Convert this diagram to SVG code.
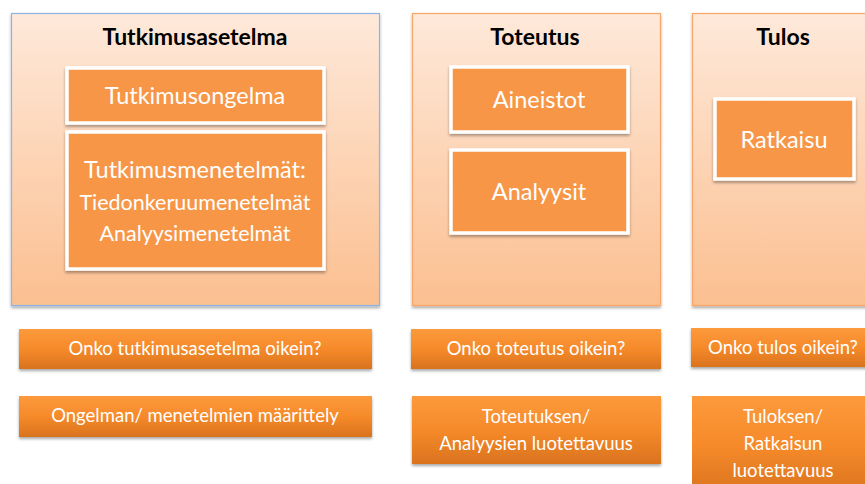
<svg xmlns="http://www.w3.org/2000/svg" width="865" height="484" viewBox="0 0 865 484">
<defs>
<linearGradient id="panelG" x1="0" y1="0" x2="0" y2="1">
<stop offset="0" stop-color="#fee9da"/>
<stop offset="1" stop-color="#fbbf90"/>
</linearGradient>
<linearGradient id="barG" x1="0" y1="0" x2="0" y2="1">
<stop offset="0" stop-color="#fc9a3c"/>
<stop offset="0.5" stop-color="#f68a2a"/>
<stop offset="1" stop-color="#d9731e"/>
</linearGradient>
<filter id="sh" x="-10%" y="-10%" width="120%" height="130%">
<feGaussianBlur in="SourceAlpha" stdDeviation="1.5"/>
<feOffset dx="0" dy="2" result="b"/>
<feComponentTransfer><feFuncA type="linear" slope="0.35"/></feComponentTransfer>
<feMerge><feMergeNode/><feMergeNode in="SourceGraphic"/></feMerge>
</filter>
</defs>
<style>
.panel{fill:url(#panelG);stroke:#f8a56a;stroke-width:1.2}
.panelB{fill:url(#panelG);stroke:#8eb4e3;stroke-width:1.2}
.box{fill:#f79646;stroke:#ffffff;stroke-width:3.5}
.bar{fill:url(#barG)}
.title{font-family:Lato,"Open Sans",sans-serif;font-weight:bold;font-size:23px;fill:#000;text-anchor:middle}
.bt{font-family:Lato,"Open Sans",sans-serif;font-size:23.5px;fill:#fff;text-anchor:middle}
.bt2{font-family:Lato,"Open Sans",sans-serif;font-size:21.5px;fill:#fff;text-anchor:middle}
.lt{font-family:Lato,"Open Sans",sans-serif;font-size:18.5px;fill:#fff;text-anchor:middle}
</style>
<rect width="865" height="484" fill="#ffffff"/>
<g id="panel-tutkimusasetelma">
<rect class="panelB" x="11.5" y="13.5" width="368" height="292" filter="url(#sh)"/>
<text class="title" x="195" y="45">Tutkimusasetelma</text>
</g>
<g id="box-tutkimusongelma">
<rect class="box" x="67" y="68" width="257" height="55" filter="url(#sh)"/>
<text class="bt" x="195" y="104">Tutkimusongelma</text>
</g>
<g id="box-tutkimusmenetelmat">
<rect class="box" x="67" y="132" width="257" height="137" filter="url(#sh)"/>
<text class="bt" x="195" y="178">Tutkimusmenetelmät:</text>
<text class="bt2" x="195" y="210">Tiedonkeruumenetelmät</text>
<text class="bt2" x="195" y="241">Analyysimenetelmät</text>
</g>
<g id="panel-toteutus">
<rect class="panel" x="412.5" y="13.5" width="248" height="292" filter="url(#sh)"/>
<text class="title" x="535" y="45">Toteutus</text>
</g>
<g id="box-aineistot">
<rect class="box" x="451" y="67" width="177" height="65" filter="url(#sh)"/>
<text class="bt" x="539" y="108">Aineistot</text>
</g>
<g id="box-analyysit">
<rect class="box" x="451" y="150" width="177" height="83" filter="url(#sh)"/>
<text class="bt" x="539" y="200">Analyysit</text>
</g>
<g id="panel-tulos">
<rect class="panel" x="692.5" y="13.5" width="200" height="292" filter="url(#sh)"/>
<text class="title" x="783" y="45">Tulos</text>
</g>
<g id="box-ratkaisu">
<rect class="box" x="715" y="99" width="139" height="80" filter="url(#sh)"/>
<text class="bt" x="784" y="148">Ratkaisu</text>
</g>
<g id="bar-1a">
<rect class="bar" x="19" y="329" width="353" height="40" filter="url(#sh)"/>
<text class="lt" x="195" y="355">Onko tutkimusasetelma oikein?</text>
</g>
<g id="bar-1b">
<rect class="bar" x="19" y="396" width="353" height="41" filter="url(#sh)"/>
<text class="lt" x="195" y="422">Ongelman/ menetelmien määrittely</text>
</g>
<g id="bar-2a">
<rect class="bar" x="411" y="329" width="250" height="40" filter="url(#sh)"/>
<text class="lt" x="536" y="355">Onko toteutus oikein?</text>
</g>
<g id="bar-2b">
<rect class="bar" x="412" y="396" width="249" height="68" filter="url(#sh)"/>
<text class="lt" x="536" y="423">Toteutuksen/</text>
<text class="lt" x="536" y="450">Analyysien luotettavuus</text>
</g>
<g id="bar-3a">
<rect class="bar" x="691" y="328" width="190" height="39" filter="url(#sh)"/>
<text class="lt" x="783" y="354">Onko tulos oikein?</text>
</g>
<g id="bar-3b">
<rect class="bar" x="692" y="396" width="190" height="100"/>
<text class="lt" x="783" y="423">Tuloksen/</text>
<text class="lt" x="783" y="450">Ratkaisun</text>
<text class="lt" x="783" y="477">luotettavuus</text>
</g>
<g id="connectors"></g>
</svg>
